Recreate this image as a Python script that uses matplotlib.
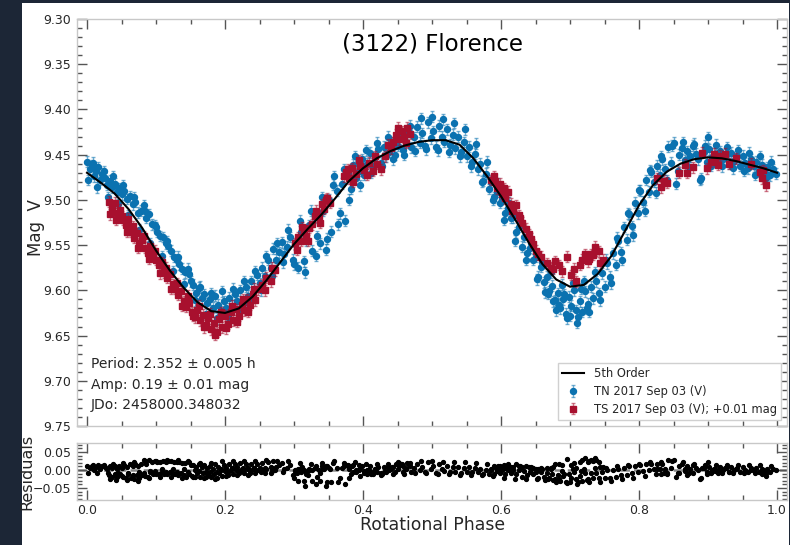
import numpy as np
import matplotlib
matplotlib.use('Agg')
import matplotlib.pyplot as plt
from matplotlib.patches import Rectangle
from matplotlib.ticker import MultipleLocator, FuncFormatter
from matplotlib.colors import to_rgba

# ---------------- data ----------------
FIT_PHASE = [0.00, 0.02, 0.04, 0.06, 0.08, 0.10, 0.12, 0.14, 0.16, 0.18,
             0.20, 0.22, 0.24, 0.26, 0.28, 0.30, 0.32, 0.34, 0.36, 0.38,
             0.40, 0.42, 0.44, 0.46, 0.48, 0.50, 0.52, 0.54, 0.56, 0.58,
             0.60, 0.62, 0.64, 0.66, 0.68, 0.70, 0.72, 0.74, 0.76, 0.78,
             0.80, 0.82, 0.84, 0.86, 0.88, 0.90, 0.92, 0.94, 0.96, 0.98, 1.00]
FIT_MAG = [9.470, 9.481, 9.493, 9.510, 9.531, 9.556, 9.578, 9.597, 9.613, 9.623,
           9.625, 9.620, 9.607, 9.589, 9.569, 9.549, 9.532, 9.516, 9.498, 9.479,
           9.465, 9.454, 9.446, 9.440, 9.436, 9.434, 9.434, 9.439, 9.454, 9.474,
           9.496, 9.521, 9.547, 9.571, 9.588, 9.596, 9.594, 9.582, 9.562, 9.534,
           9.506, 9.484, 9.469, 9.460, 9.455, 9.453, 9.454, 9.457, 9.461, 9.465, 9.470]

TN_PHASE = [0.000, 0.004, 0.007, 0.010, 0.013, 0.016, 0.019, 0.022, 0.026, 0.029,
            0.033, 0.036, 0.040, 0.043, 0.047, 0.050, 0.054, 0.058, 0.062, 0.066,
            0.070, 0.074, 0.078, 0.082, 0.086, 0.090, 0.094, 0.098, 0.102, 0.106,
            0.110, 0.114, 0.118, 0.122, 0.126, 0.130, 0.134, 0.138, 0.142, 0.146,
            0.150, 0.154, 0.158, 0.162, 0.166, 0.170, 0.174, 0.178, 0.182, 0.186,
            0.190, 0.194, 0.198, 0.202, 0.206, 0.210, 0.214, 0.218, 0.222, 0.226,
            0.230, 0.234, 0.238, 0.242, 0.246, 0.250, 0.254, 0.258, 0.262, 0.266,
            0.270, 0.274, 0.278, 0.282, 0.286, 0.290, 0.294, 0.298, 0.302, 0.306,
            0.310, 0.314, 0.318, 0.322, 0.326, 0.330, 0.334, 0.338, 0.342, 0.346,
            0.350, 0.354, 0.358, 0.362, 0.366, 0.370, 0.374, 0.378, 0.382, 0.386,
            0.390, 0.394, 0.398, 0.402, 0.406, 0.410, 0.414, 0.418, 0.422, 0.426,
            0.430, 0.434, 0.438, 0.442, 0.446, 0.450, 0.454, 0.458, 0.462, 0.466,
            0.470, 0.474, 0.478, 0.482, 0.486, 0.490, 0.494, 0.498, 0.502, 0.506,
            0.510, 0.514, 0.518, 0.522, 0.526, 0.530, 0.534, 0.538, 0.542, 0.546,
            0.550, 0.554, 0.558, 0.562, 0.566, 0.570, 0.574, 0.578, 0.582, 0.586,
            0.590, 0.594, 0.598, 0.602, 0.606, 0.610, 0.614, 0.618, 0.622, 0.626,
            0.630, 0.634, 0.638, 0.642, 0.646, 0.650, 0.654, 0.658, 0.662, 0.666,
            0.668, 0.670, 0.674, 0.676, 0.678, 0.682, 0.684, 0.686, 0.690, 0.692,
            0.694, 0.698, 0.700, 0.702, 0.706, 0.708, 0.710, 0.714, 0.716, 0.718,
            0.722, 0.724, 0.726, 0.730, 0.734, 0.738, 0.742, 0.746, 0.750, 0.754,
            0.758, 0.762, 0.766, 0.770, 0.774, 0.778, 0.782, 0.786, 0.790, 0.794,
            0.798, 0.802, 0.806, 0.810, 0.814, 0.818, 0.822, 0.826, 0.830, 0.834,
            0.838, 0.842, 0.846, 0.850, 0.854, 0.858, 0.862, 0.866, 0.870, 0.874,
            0.878, 0.882, 0.886, 0.890, 0.894, 0.898, 0.900, 0.902, 0.906, 0.910,
            0.914, 0.918, 0.922, 0.926, 0.930, 0.934, 0.938, 0.942, 0.946, 0.950,
            0.954, 0.958, 0.962, 0.966, 0.970, 0.974, 0.978, 0.982, 0.986, 0.990,
            0.994, 0.998,
            0.002, 0.009, 0.015, 0.024, 0.031, 0.038, 0.045, 0.052, 0.060, 0.068,
            0.076, 0.084, 0.092, 0.100, 0.108, 0.116, 0.124, 0.132, 0.140, 0.148,
            0.156, 0.164, 0.172, 0.180, 0.188, 0.196, 0.204, 0.212, 0.220, 0.228,
            0.236, 0.244, 0.252, 0.260, 0.268, 0.276, 0.284, 0.292, 0.300, 0.308,
            0.316, 0.324, 0.332, 0.340, 0.348, 0.356, 0.364, 0.372, 0.380, 0.388,
            0.396, 0.404, 0.412, 0.420, 0.428, 0.436, 0.444, 0.452, 0.460, 0.468,
            0.476, 0.484, 0.492, 0.500, 0.508, 0.516, 0.524, 0.532, 0.540, 0.548,
            0.556, 0.564, 0.572, 0.580, 0.588, 0.596, 0.604, 0.612, 0.620, 0.628,
            0.636, 0.644, 0.652, 0.660, 0.664, 0.672, 0.680, 0.688, 0.696, 0.704,
            0.712, 0.720, 0.728, 0.736, 0.744, 0.752, 0.760, 0.768, 0.776, 0.784,
            0.792, 0.800, 0.808, 0.816, 0.824, 0.832, 0.840, 0.848, 0.856, 0.864,
            0.872, 0.880, 0.888, 0.896, 0.904, 0.912, 0.920, 0.928, 0.936, 0.944,
            0.952, 0.960, 0.968, 0.976, 0.984, 0.992]
TN_MAG = [9.458, 9.466, 9.462, 9.474, 9.468, 9.464, 9.478, 9.471, 9.476, 9.483,
          9.479, 9.486, 9.482, 9.491, 9.487, 9.494, 9.490, 9.499, 9.496, 9.505,
          9.502, 9.514, 9.512, 9.506, 9.520, 9.516, 9.527, 9.528, 9.535, 9.540,
          9.541, 9.548, 9.551, 9.556, 9.563, 9.566, 9.571, 9.576, 9.580, 9.576,
          9.590, 9.594, 9.603, 9.597, 9.609, 9.604, 9.614, 9.610, 9.619, 9.606,
          9.616, 9.623, 9.612, 9.620, 9.608, 9.617, 9.604, 9.612, 9.600, 9.615,
          9.596, 9.606, 9.590, 9.598, 9.583, 9.592, 9.575, 9.584, 9.566, 9.575,
          9.554, 9.566, 9.558, 9.547, 9.560, 9.552, 9.541, 9.566, 9.549, 9.575,
          9.535, 9.568, 9.545, 9.528, 9.556, 9.519, 9.540, 9.548, 9.512, 9.555,
          9.500, 9.535, 9.474, 9.490, 9.515, 9.482, 9.523, 9.470, 9.488, 9.461,
          9.476, 9.468, 9.455, 9.472, 9.460, 9.448, 9.462, 9.453, 9.444, 9.459,
          9.441, 9.452, 9.447, 9.436, 9.450, 9.440, 9.429, 9.445, 9.436, 9.425,
          9.442, 9.431, 9.419, 9.437, 9.426, 9.440, 9.414, 9.432, 9.424, 9.441,
          9.418, 9.430, 9.436, 9.422, 9.439, 9.428, 9.443, 9.430, 9.447, 9.436,
          9.452, 9.441, 9.458, 9.449, 9.466, 9.460, 9.479, 9.471, 9.488, 9.480,
          9.497, 9.491, 9.503, 9.499, 9.515, 9.509, 9.520, 9.519, 9.536, 9.530,
          9.552, 9.541, 9.559, 9.553, 9.566, 9.563, 9.585, 9.574, 9.591, 9.585,
          9.604, 9.601, 9.595, 9.612, 9.611, 9.603, 9.616, 9.620, 9.610, 9.604,
          9.626, 9.607, 9.628, 9.617, 9.600, 9.622, 9.636, 9.612, 9.598, 9.624,
          9.601, 9.620, 9.615, 9.596, 9.609, 9.590, 9.603, 9.581, 9.596, 9.570,
          9.585, 9.559, 9.572, 9.545, 9.558, 9.530, 9.544, 9.516, 9.529, 9.503,
          9.515, 9.490, 9.502, 9.478, 9.491, 9.469, 9.480, 9.462, 9.472, 9.455,
          9.466, 9.441, 9.459, 9.437, 9.482, 9.450, 9.443, 9.456, 9.446, 9.452,
          9.440, 9.449, 9.455, 9.476, 9.447, 9.458, 9.431, 9.444, 9.453, 9.449,
          9.457, 9.446, 9.455, 9.450, 9.460, 9.448, 9.457, 9.452, 9.462, 9.451,
          9.459, 9.465, 9.455, 9.463, 9.458, 9.468, 9.461, 9.470, 9.464, 9.473,
          9.466, 9.471,
          9.478, 9.459, 9.486, 9.468, 9.497, 9.474, 9.505, 9.484, 9.517, 9.497,
          9.533, 9.512, 9.548, 9.530, 9.562, 9.546, 9.579, 9.563, 9.593, 9.582,
          9.611, 9.596, 9.626, 9.603, 9.631, 9.601, 9.629, 9.598, 9.623, 9.590,
          9.612, 9.579, 9.600, 9.562, 9.584, 9.548, 9.569, 9.533, 9.571, 9.523,
          9.580, 9.512, 9.562, 9.497, 9.543, 9.483, 9.527, 9.466, 9.500, 9.452,
          9.484, 9.445, 9.470, 9.437, 9.462, 9.430, 9.455, 9.424, 9.450, 9.418,
          9.446, 9.410, 9.444, 9.408, 9.445, 9.411, 9.447, 9.415, 9.452, 9.422,
          9.463, 9.438, 9.480, 9.458, 9.500, 9.482, 9.522, 9.503, 9.545, 9.526,
          9.566, 9.548, 9.588, 9.569, 9.602, 9.580, 9.622, 9.594, 9.631, 9.592,
          9.630, 9.590, 9.624, 9.580, 9.611, 9.566, 9.592, 9.542, 9.566, 9.515,
          9.539, 9.489, 9.512, 9.467, 9.492, 9.452, 9.478, 9.440, 9.468, 9.436,
          9.464, 9.438, 9.478, 9.440, 9.462, 9.439, 9.463, 9.442, 9.465, 9.445,
          9.468, 9.448, 9.472, 9.452, 9.476, 9.458]
TN_RES = [0.012, 0.006, 0.011, 0.001, 0.009, 0.015, 0.002, 0.011, 0.009, 0.003,
          0.010, 0.005, 0.011, 0.004, 0.012, 0.007, 0.015, 0.009, 0.016, 0.011,
          0.018, 0.010, 0.017, 0.027, 0.018, 0.027, 0.021, 0.025, 0.023, 0.023,
          0.026, 0.023, 0.025, 0.024, 0.021, 0.022, 0.021, 0.019, 0.019, 0.026,
          0.015, 0.014, 0.008, 0.017, 0.008, 0.015, 0.007, 0.012, 0.004, 0.018,
          0.009, 0.002, 0.013, 0.005, 0.016, 0.006, 0.018, 0.009, 0.019, 0.001,
          0.018, 0.005, 0.018, 0.007, 0.018, 0.006, 0.019, 0.007, 0.021, 0.008,
          0.025, 0.009, 0.013, 0.020, 0.003, 0.007, 0.014, -0.015, -0.002, -0.031,
          0.005, -0.031, -0.011, 0.002, -0.029, 0.005, -0.019, -0.030, 0.002, -0.044,
          0.007, -0.032, 0.026, 0.006, -0.023, 0.006, -0.039, 0.011, -0.010, 0.014,
          -0.004, 0.001, 0.011, -0.008, 0.001, 0.011, -0.005, 0.002, 0.009, -0.007,
          0.009, -0.004, 0.000, 0.009, -0.006, 0.003, 0.013, -0.004, 0.004, 0.014,
          -0.004, 0.006, 0.017, -0.001, 0.009, -0.005, 0.021, 0.002, 0.010, -0.007,
          0.016, 0.004, -0.002, 0.012, -0.004, 0.008, -0.006, 0.008, -0.007, 0.007,
          -0.006, 0.008, -0.006, 0.007, -0.006, 0.004, -0.011, 0.001, -0.012, 0.001,
          -0.012, -0.002, -0.009, -0.001, -0.012, -0.001, -0.007, -0.001, -0.012, -0.001,
          -0.018, -0.002, -0.015, -0.004, -0.012, -0.004, -0.021, -0.005, -0.018, -0.009,
          -0.026, -0.021, -0.012, -0.027, -0.025, -0.014, -0.026, -0.029, -0.017, -0.010,
          -0.032, -0.012, -0.032, -0.021, -0.004, -0.026, -0.040, -0.017, -0.003, -0.030,
          -0.008, -0.028, -0.024, -0.007, -0.023, -0.007, -0.023, -0.004, -0.023, -0.001,
          -0.021, 0.000, -0.018, 0.004, -0.015, 0.007, -0.013, 0.010, -0.009, 0.011,
          -0.006, 0.014, -0.003, 0.016, -0.001, 0.017, 0.002, 0.017, 0.004, 0.018,
          0.004, 0.027, 0.007, 0.027, -0.020, 0.011, 0.016, 0.002, 0.011, 0.004,
          0.015, 0.006, -0.001, -0.022, 0.007, -0.005, 0.022, 0.009, 0.000, 0.004,
          -0.004, 0.008, -0.001, 0.005, -0.005, 0.008, 0.000, 0.005, -0.004, 0.008,
          0.001, -0.004, 0.006, -0.001, 0.005, -0.004, 0.004, -0.004, 0.004, -0.006,
          0.002, -0.001,
          -0.007, 0.015, -0.008, 0.015, -0.009, 0.018, -0.008, 0.019, -0.007, 0.021,
          -0.006, 0.024, -0.002, 0.026, 0.003, 0.028, 0.003, 0.027, 0.004, 0.021,
          -0.001, 0.019, -0.006, 0.020, -0.006, 0.024, -0.005, 0.024, -0.003, 0.025,
          -0.003, 0.024, -0.004, 0.027, -0.003, 0.025, -0.004, 0.024, -0.022, 0.019,
          -0.045, 0.016, -0.040, 0.019, -0.034, 0.019, -0.033, 0.020, -0.021, 0.021,
          -0.016, 0.017, -0.012, 0.017, -0.011, 0.018, -0.010, 0.019, -0.010, 0.020,
          -0.009, 0.026, -0.009, 0.026, -0.011, 0.023, -0.012, 0.022, -0.013, 0.022,
          -0.013, 0.020, -0.014, 0.016, -0.017, 0.010, -0.021, 0.008, -0.024, 0.006,
          -0.024, 0.004, -0.026, 0.002, -0.027, 0.002, -0.034, -0.002, -0.036, 0.004,
          -0.034, 0.004, -0.034, 0.005, -0.032, 0.005, -0.030, 0.010, -0.026, 0.013,
          -0.022, 0.017, -0.016, 0.021, -0.011, 0.023, -0.009, 0.025, -0.007, 0.022,
          -0.008, 0.017, -0.024, 0.013, -0.009, 0.014, -0.009, 0.013, -0.009, 0.013,
          -0.008, 0.013, -0.009, 0.013, -0.009, 0.010]

TS_PHASE = [0.032, 0.036, 0.040, 0.044, 0.048, 0.052, 0.056, 0.060, 0.064, 0.068,
            0.072, 0.076, 0.080, 0.084, 0.088, 0.092, 0.096, 0.100, 0.104, 0.108,
            0.112, 0.116, 0.120, 0.124, 0.128, 0.132, 0.136, 0.140, 0.144, 0.148,
            0.152, 0.156, 0.160, 0.164, 0.168, 0.172, 0.176, 0.180, 0.184, 0.188,
            0.192, 0.196, 0.200, 0.204, 0.208, 0.212, 0.216, 0.220, 0.224, 0.228,
            0.232, 0.236, 0.240, 0.244, 0.248, 0.254, 0.260, 0.266, 0.272, 0.302,
            0.306, 0.310, 0.314, 0.318, 0.322, 0.326, 0.332, 0.336, 0.340, 0.344,
            0.348, 0.352, 0.372, 0.376, 0.380, 0.384, 0.390, 0.396, 0.402, 0.408,
            0.414, 0.420, 0.426, 0.432, 0.440, 0.444, 0.448, 0.452, 0.456, 0.460,
            0.464, 0.468, 0.586, 0.590, 0.594, 0.598, 0.602, 0.606, 0.610, 0.614,
            0.618, 0.622, 0.626, 0.630, 0.636, 0.640, 0.646, 0.650, 0.658, 0.666,
            0.672, 0.678, 0.684, 0.696, 0.702, 0.708, 0.714, 0.718, 0.722, 0.726,
            0.730, 0.734, 0.738, 0.742, 0.748, 0.826, 0.832, 0.840, 0.858, 0.866,
            0.878, 0.892, 0.898, 0.904, 0.910, 0.914, 0.918, 0.924, 0.940, 0.962,
            0.976, 0.980, 0.984,
            0.034, 0.042, 0.050, 0.058, 0.066, 0.074, 0.082, 0.090, 0.098, 0.106,
            0.114, 0.122, 0.130, 0.138, 0.146, 0.154, 0.162, 0.170, 0.178, 0.186,
            0.194, 0.202, 0.210, 0.218, 0.226, 0.234, 0.242, 0.258, 0.268, 0.304,
            0.312, 0.320, 0.330, 0.338, 0.346, 0.378, 0.386, 0.394, 0.406, 0.418,
            0.436, 0.450, 0.462, 0.592, 0.604, 0.616, 0.628, 0.644, 0.654, 0.676,
            0.688, 0.706, 0.728, 0.736, 0.744, 0.836, 0.870, 0.908, 0.930, 0.978]
TS_MAG = [9.502, 9.509, 9.503, 9.515, 9.511, 9.522, 9.528, 9.521, 9.535, 9.542,
          9.537, 9.548, 9.544, 9.553, 9.559, 9.551, 9.562, 9.566, 9.572, 9.569,
          9.580, 9.586, 9.582, 9.593, 9.598, 9.605, 9.601, 9.612, 9.618, 9.614,
          9.624, 9.630, 9.622, 9.633, 9.627, 9.638, 9.631, 9.643, 9.636, 9.646,
          9.632, 9.641, 9.628, 9.637, 9.624, 9.633, 9.621, 9.628, 9.616, 9.622,
          9.610, 9.616, 9.604, 9.611, 9.599, 9.594, 9.586, 9.590, 9.578, 9.548,
          9.541, 9.545, 9.536, 9.540, 9.531, 9.527, 9.512, 9.518, 9.505, 9.510,
          9.498, 9.503, 9.474, 9.469, 9.476, 9.465, 9.471, 9.462, 9.467, 9.459,
          9.468, 9.460, 9.466, 9.452, 9.443, 9.436, 9.428, 9.433, 9.424, 9.431,
          9.420, 9.427, 9.478, 9.474, 9.487, 9.482, 9.493, 9.498, 9.491, 9.504,
          9.510, 9.506, 9.517, 9.525, 9.532, 9.538, 9.549, 9.556, 9.563, 9.570,
          9.575, 9.568, 9.572, 9.563, 9.583, 9.590, 9.572, 9.566, 9.560, 9.568,
          9.560, 9.561, 9.556, 9.557, 9.566, 9.476, 9.486, 9.481, 9.470, 9.461,
          9.464, 9.448, 9.465, 9.458, 9.455, 9.461, 9.451, 9.449, 9.454, 9.460,
          9.469, 9.467, 9.484,
          9.516, 9.522, 9.518, 9.535, 9.529, 9.553, 9.540, 9.565, 9.556, 9.581,
          9.575, 9.598, 9.592, 9.617, 9.606, 9.628, 9.617, 9.641, 9.626, 9.649,
          9.624, 9.642, 9.617, 9.635, 9.610, 9.624, 9.598, 9.600, 9.575, 9.555,
          9.530, 9.545, 9.518, 9.525, 9.500, 9.466, 9.480, 9.456, 9.472, 9.452,
          9.439, 9.420, 9.437, 9.479, 9.487, 9.512, 9.520, 9.543, 9.560, 9.576,
          9.579, 9.576, 9.565, 9.552, 9.570, 9.479, 9.470, 9.449, 9.460, 9.476]
TS_RES = [-0.014, -0.018, -0.010, -0.019, -0.012, -0.019, -0.022, -0.011, -0.021, -0.024,
          -0.015, -0.021, -0.013, -0.017, -0.018, -0.005, -0.011, -0.010, -0.012, -0.004,
          -0.011, -0.012, -0.004, -0.011, -0.012, -0.015, -0.008, -0.015, -0.018, -0.011,
          -0.017, -0.020, -0.009, -0.018, -0.009, -0.018, -0.010, -0.020, -0.012, -0.021,
          -0.007, -0.016, -0.003, -0.013, -0.001, -0.011, 0.000, -0.008, 0.002, -0.007,
          0.002, -0.007, 0.003, -0.008, 0.001, 0.000, 0.003, -0.007, -0.001, -0.001,
          0.003, -0.005, 0.001, -0.006, -0.001, 0.000, 0.010, 0.001, 0.011, 0.002,
          0.011, 0.002, 0.012, 0.014, 0.003, 0.011, 0.001, 0.006, -0.003, 0.001,
          -0.011, -0.006, -0.014, -0.003, 0.003, 0.009, 0.016, 0.010, 0.017, 0.009,
          0.019, 0.011, 0.003, 0.011, 0.002, 0.012, 0.005, 0.005, 0.017, 0.009,
          0.008, 0.018, 0.012, 0.009, 0.010, 0.009, 0.005, 0.003, 0.006, 0.006,
          0.007, 0.018, 0.018, 0.032, 0.013, 0.006, 0.023, 0.028, 0.033, 0.023,
          0.029, 0.025, 0.027, 0.023, 0.009, 0.003, -0.012, -0.012, -0.009, -0.003,
          -0.009, 0.006, -0.012, -0.005, -0.002, -0.008, 0.003, 0.005, 0.003, 0.001,
          -0.004, -0.001, -0.017,
          -0.026, -0.027, -0.017, -0.027, -0.013, -0.029, -0.007, -0.022, -0.003, -0.018,
          -0.004, -0.018, -0.004, -0.022, -0.004, -0.020, -0.003, -0.022, -0.004, -0.025,
          0.001, -0.017, 0.006, -0.014, 0.006, -0.013, 0.007, -0.009, 0.006, -0.009,
          0.009, -0.013, 0.006, -0.007, 0.011, 0.015, -0.005, 0.013, -0.011, 0.003,
          0.009, 0.023, 0.003, 0.008, 0.014, 0.004, 0.012, 0.009, 0.004, 0.009,
          0.013, 0.020, 0.025, 0.033, 0.009, -0.007, -0.013, 0.004, -0.005, -0.011]

TN_ERR = 0.006
TS_ERR = 0.006

TITLE = '(3122) Florence'
INFO = ['Period: 2.352 \u00b1 0.005 h', 'Amp: 0.19 \u00b1 0.01 mag', 'JDo: 2458000.348032']
LEGEND_LABELS = ['5th Order', 'TN 2017 Sep 03 (V)', 'TS 2017 Sep 03 (V); +0.01 mag']

# ---------------- layout ----------------
W, H = 790, 545
BLUE = '#0b72b0'
RED = '#a8102e'
TICK_C = '#555555'
SPINE_C = '#c8c8c8'
TXT_C = '#262626'

fig = plt.figure(figsize=(W / 100, H / 100), dpi=100)
fig.patch.set_facecolor('#1c2636')
fig.add_artist(Rectangle((22 / W, 0), (789 - 22) / W, (H - 3) / H,
                         transform=fig.transFigure, facecolor='white',
                         edgecolor='none', zorder=-10))


def rect(l, t, r, b):
    return [l / W, 1 - b / H, (r - l) / W, (b - t) / H]


ax = fig.add_axes(rect(77, 19, 787, 426))
axr = fig.add_axes(rect(77, 443, 787, 500))

# main panel
eb1 = ax.errorbar(TN_PHASE, TN_MAG, yerr=TN_ERR, fmt='o', ms=4.3, color=BLUE,
                  mec=BLUE, ecolor=to_rgba(BLUE, 0.55), elinewidth=1.0,
                  capsize=1.6, capthick=1.0, zorder=2)
eb2 = ax.errorbar(TS_PHASE, TS_MAG, yerr=TS_ERR, fmt='s', ms=4.3, color=RED,
                  mec=RED, ecolor=to_rgba(RED, 0.55), elinewidth=1.0,
                  capsize=1.6, capthick=1.0, zorder=3)
line, = ax.plot(FIT_PHASE, FIT_MAG, color='black', lw=1.5, zorder=4)

xl = (-10 / 690, 1 + 10 / 690)
ax.set_xlim(*xl)
ax.set_ylim(9.75, 9.30)
ax.yaxis.set_major_locator(MultipleLocator(0.05))
ax.yaxis.set_minor_locator(MultipleLocator(0.01))
ax.yaxis.set_major_formatter(FuncFormatter(lambda v, p: f'{v:.2f}'))
for a in (ax, axr):
    a.xaxis.set_major_locator(MultipleLocator(0.2))
    a.xaxis.set_minor_locator(MultipleLocator(0.05))
    a.tick_params(which='both', direction='in', top=True, right=True,
                  color=TICK_C, labelcolor=TXT_C, labelsize=9, width=1.0)
    a.tick_params(which='major', length=7.5, pad=4)
    a.tick_params(which='minor', length=3.5)
    for s in a.spines.values():
        s.set_color(SPINE_C)
        s.set_linewidth(1.0)
ax.tick_params(labelbottom=False)

ax.text(0.5, 1 - (44 - 19) / 407, TITLE, transform=ax.transAxes,
        ha='center', va='center', fontsize=16.5, color='black')

for i, s in enumerate(INFO):
    fig.text(91 / W, 1 - (364 + 20.5 * i) / H, s, ha='left', va='center',
             fontsize=10, color=TXT_C)

leg = ax.legend([line, eb1, eb2], LEGEND_LABELS, loc='lower right', fontsize=8.3,
                frameon=True, fancybox=False, edgecolor='#d0d0d0', framealpha=1,
                handlelength=1.9, borderaxespad=0.5, labelspacing=0.4)
for t in leg.get_texts():
    t.set_color(TXT_C)

# residual panel
axr.axhline(0.0, color='#8a8a8a', lw=1.8, ls='--', zorder=1)
axr.plot(TN_PHASE, TN_RES, 'o', color='black', ms=2.8, zorder=2)
axr.plot(TS_PHASE, TS_RES, 'o', color='black', ms=2.8, zorder=2)
axr.set_xlim(*xl)
axr.set_ylim(-0.083, 0.075)
axr.yaxis.set_major_locator(MultipleLocator(0.05))
axr.yaxis.set_minor_locator(MultipleLocator(0.01))
axr.yaxis.set_major_formatter(FuncFormatter(lambda v, p: f'{v:.2f}'.replace('-', '\u2212')
                                            if abs(v) > 1e-9 else '0.00'))
axr.xaxis.set_major_formatter(FuncFormatter(lambda v, p: f'{v:.1f}'))
axr.tick_params(axis='x', pad=3)

fig.text(36 / W, 1 - 228 / H, 'Mag  V', rotation=90, ha='center', va='center',
         fontsize=12, color=TXT_C)
fig.text(26.5 / W, 1 - 472 / H, 'Residuals', rotation=90, ha='center', va='center',
         fontsize=11.5, color=TXT_C)
fig.text(432 / W, 1 - 525 / H, 'Rotational Phase', ha='center', va='center',
         fontsize=12.4, color=TXT_C)

fig.savefig('out.png', dpi=100, facecolor=fig.get_facecolor())
